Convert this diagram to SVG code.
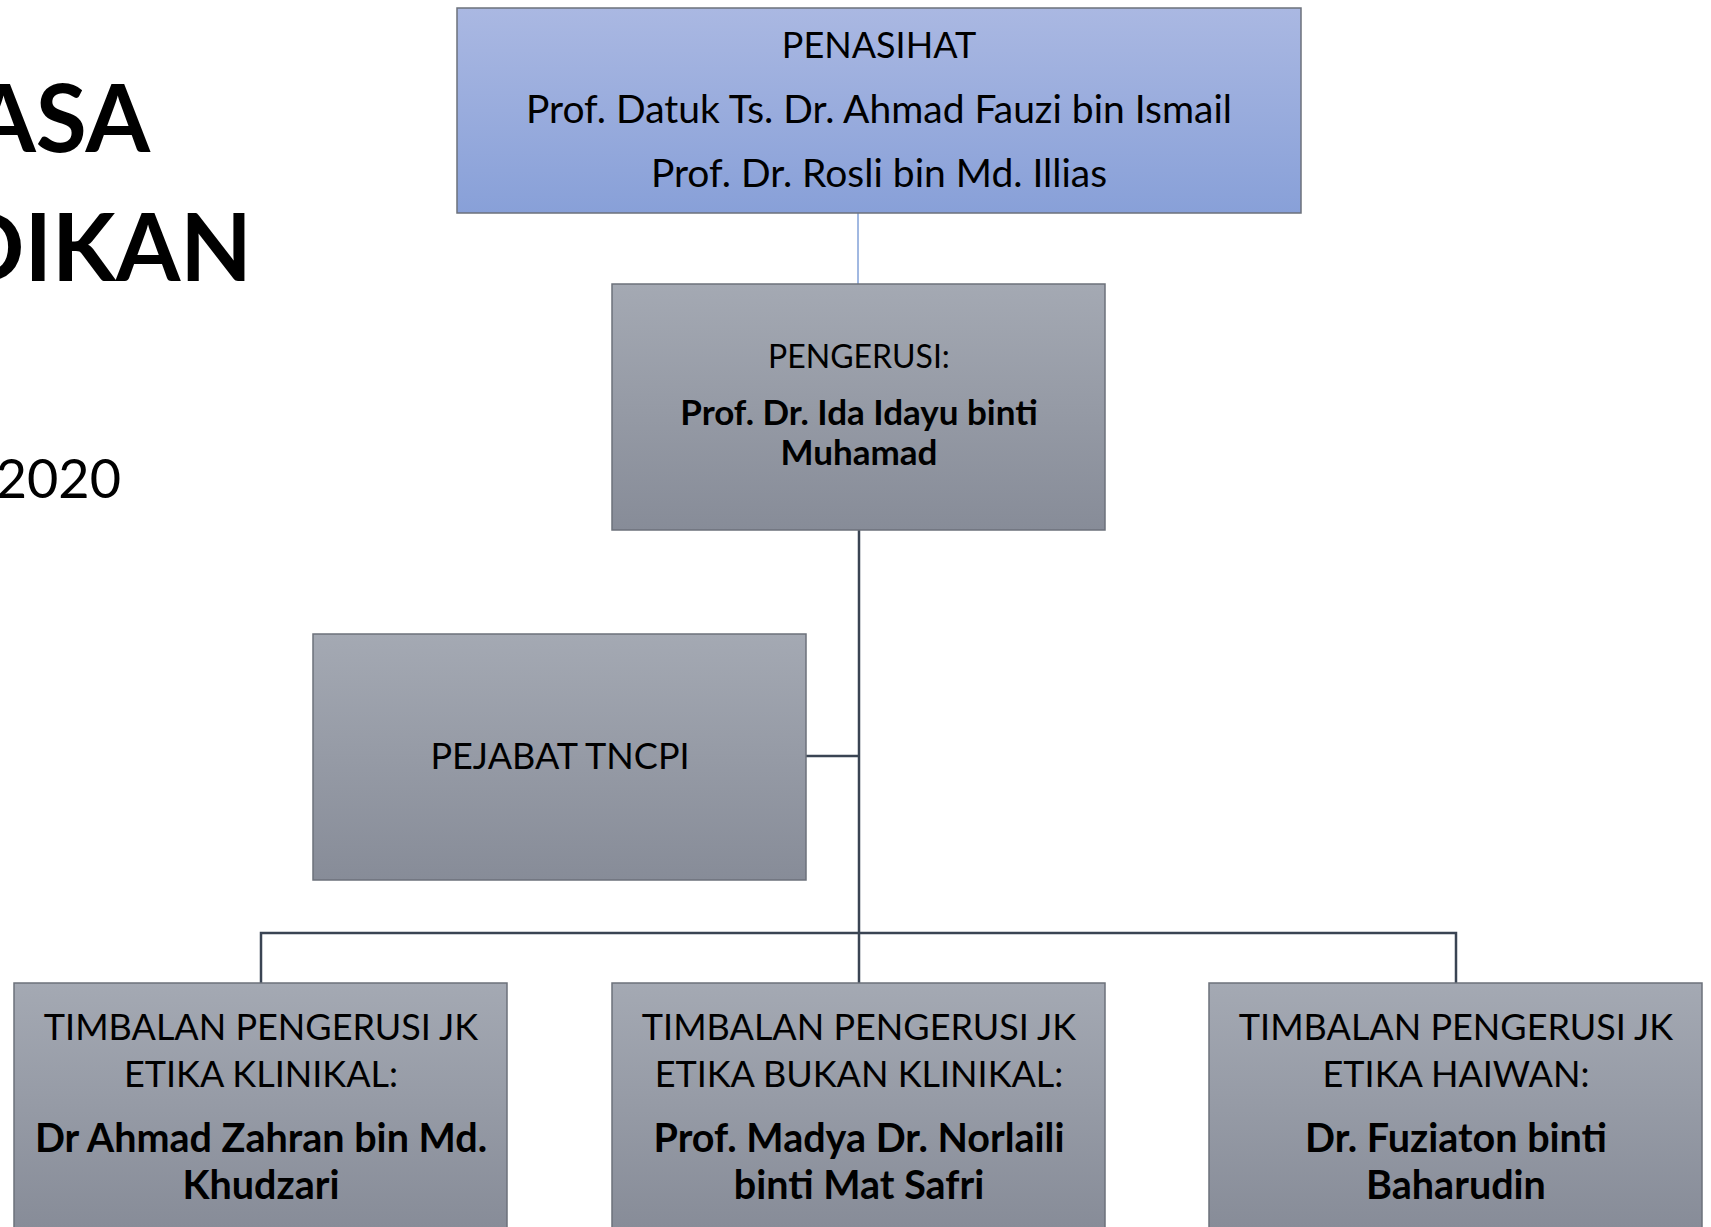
<svg xmlns="http://www.w3.org/2000/svg" width="1711" height="1227" viewBox="0 0 1711 1227">
<defs>
<linearGradient id="gBlue" x1="0" y1="0" x2="0" y2="1">
<stop offset="0" stop-color="#aab8e2"/>
<stop offset="1" stop-color="#88a0d8"/>
</linearGradient>
<linearGradient id="gGray" x1="0" y1="0" x2="0" y2="1">
<stop offset="0" stop-color="#a4a9b3"/>
<stop offset="1" stop-color="#878c98"/>
</linearGradient>
<linearGradient id="gGrayTall" gradientUnits="userSpaceOnUse" x1="0" y1="983" x2="0" y2="1229">
<stop offset="0" stop-color="#a4a9b3"/>
<stop offset="1" stop-color="#878c98"/>
</linearGradient>
</defs>
<style>
text{font-family:Lato,"Open Sans","Liberation Sans",sans-serif;fill:#000;text-anchor:middle}
.title{font-weight:bold;font-size:93px;text-anchor:end}
.sub{font-size:54px;text-anchor:end}
.box{stroke:#6c717b;stroke-width:1.5}
.t36{font-size:36px}
.t39{font-size:39px}
.t32{font-size:32px}
.b35{font-size:35px;font-weight:bold}
.b40{font-size:39.5px;font-weight:bold}
.conn{fill:none;stroke:#3a4453;stroke-width:2.5}
</style>
<rect width="1711" height="1227" fill="#fff"/>
<g id="title">
<text class="title" x="150" y="152">ASA</text>
<text class="title" x="252" y="281">DIKAN</text>
<text class="sub" x="121" y="498">2020</text>
</g>
<g id="connectors">
<line x1="858" y1="213" x2="858" y2="284" stroke="#4472c4" stroke-width="1"/>
<line class="conn" x1="859" y1="530" x2="859" y2="983"/>
<line class="conn" x1="806" y1="756" x2="859" y2="756"/>
<polyline class="conn" points="261,983 261,933 1456,933 1456,983"/>
</g>
<g id="penasihat">
<rect class="box" x="457" y="8" width="844" height="205" fill="url(#gBlue)"/>
<text class="t36" x="879" y="58">PENASIHAT</text>
<text class="t39" x="879" y="123">Prof. Datuk Ts. Dr. Ahmad Fauzi bin Ismail</text>
<text class="t39" x="879" y="187">Prof. Dr. Rosli bin Md. Illias</text>
</g>
<g id="pengerusi">
<rect class="box" x="612" y="284" width="493" height="246" fill="url(#gGray)"/>
<text class="t32" x="859" y="368">PENGERUSI:</text>
<text class="b35" x="859" y="425">Prof. Dr. Ida Idayu binti</text>
<text class="b35" x="859" y="465">Muhamad</text>
</g>
<g id="pejabat">
<rect class="box" x="313" y="634" width="493" height="246" fill="url(#gGray)"/>
<text class="t36" x="560" y="769">PEJABAT TNCPI</text>
</g>
<g id="timbalan-klinikal">
<rect class="box" x="14" y="983" width="493" height="260" fill="url(#gGrayTall)"/>
<text class="t36" x="261" y="1040">TIMBALAN PENGERUSI JK</text>
<text class="t36" x="261" y="1087">ETIKA KLINIKAL:</text>
<text class="b40" x="261" y="1152">Dr Ahmad Zahran bin Md.</text>
<text class="b40" x="261" y="1199">Khudzari</text>
</g>
<g id="timbalan-bukan-klinikal">
<rect class="box" x="612" y="983" width="493" height="260" fill="url(#gGrayTall)"/>
<text class="t36" x="859" y="1040">TIMBALAN PENGERUSI JK</text>
<text class="t36" x="859" y="1087">ETIKA BUKAN KLINIKAL:</text>
<text class="b40" x="859" y="1152">Prof. Madya Dr. Norlaili</text>
<text class="b40" x="859" y="1199">binti Mat Safri</text>
</g>
<g id="timbalan-haiwan">
<rect class="box" x="1209" y="983" width="493" height="260" fill="url(#gGrayTall)"/>
<text class="t36" x="1456" y="1040">TIMBALAN PENGERUSI JK</text>
<text class="t36" x="1456" y="1087">ETIKA HAIWAN:</text>
<text class="b40" x="1456" y="1152">Dr. Fuziaton binti</text>
<text class="b40" x="1456" y="1199">Baharudin</text>
</g>
</svg>
